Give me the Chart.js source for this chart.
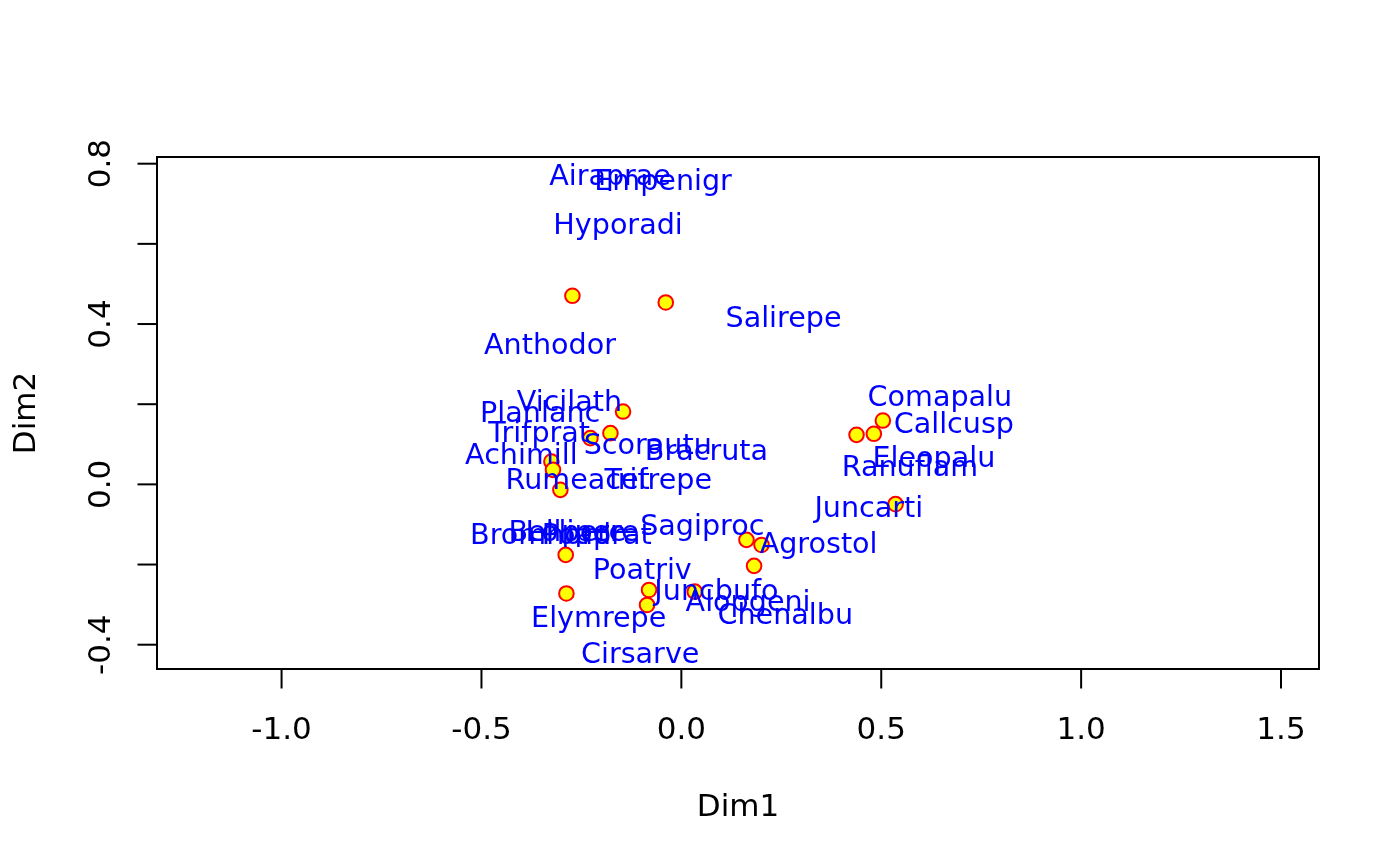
<!DOCTYPE html>
<html>
<head>
<meta charset="utf-8">
<script src="https://cdn.jsdelivr.net/npm/chart.js@4.4.1/dist/chart.umd.min.js"></script>
<style>
  html, body { margin: 0; padding: 0; background: #ffffff; }
  #wrap { width: 1400px; height: 866px; }
</style>
</head>
<body>
<div id="wrap"><canvas id="c" width="1400" height="866"></canvas></div>
<script>
// ---- Data ----
const siteX = [-0.2725, -0.039, -0.1459, -0.1774, -0.2275, -0.3251, -0.3211, -0.3026, -0.2893, -0.2875,
               -0.0808, -0.0858, 0.0335, 0.1629, 0.2005, 0.1819, 0.4382, 0.4815, 0.504, 0.5358];
const siteY = [0.4705, 0.4538, 0.1817, 0.1278, 0.1153, 0.0569, 0.0362, -0.0137, -0.176, -0.2721,
               -0.2634, -0.3008, -0.2676, -0.1385, -0.1511, -0.2034, 0.1236, 0.1261, 0.1593, -0.0494];

const speciesNames = ["Airaprae", "Empenigr", "Hyporadi", "Salirepe", "Anthodor", "Vicilath", "Planlanc",
  "Trifprat", "Scorautu", "Bracruta", "Achimill", "Rumeacet", "Trifrepe", "Comapalu", "Callcusp",
  "Eleopalu", "Ranuflam", "Juncarti", "Sagiproc", "Agrostol", "Poatriv", "Juncbufo", "Alopgeni",
  "Chenalbu", "Elymrepe", "Cirsarve", "Bromhord", "Bellpere", "Lolipere", "Poaprat"];
const speciesX = [-0.1784, -0.0458, -0.1584, 0.2555, -0.3286, -0.28, -0.3531,
  -0.3556, -0.0841, 0.0628, -0.4002, -0.2593, -0.0578, 0.6467, 0.6817,
  0.6316, 0.5716, 0.469, 0.0523, 0.3433, -0.0978, 0.0878, 0.1669,
  0.26, -0.2067, -0.1029, -0.3519, -0.2855, -0.248, -0.2117];
const speciesY = [0.773, 0.7606, 0.6508, 0.4194, 0.3502, 0.2089, 0.1822,
  0.1323, 0.1006, 0.0866, 0.0756, 0.0157, 0.0157, 0.2214, 0.1548,
  0.0681, 0.0474, -0.0549, -0.1006, -0.1448, -0.2089, -0.2629, -0.2896,
  -0.3228, -0.3295, -0.4194, -0.1231, -0.115, -0.115, -0.1216];

const xTicks = [-1.0, -0.5, 0.0, 0.5, 1.0, 1.5];
const xTickLabels = ["-1.0", "-0.5", "0.0", "0.5", "1.0", "1.5"];
const yTicks = [-0.4, -0.2, 0.0, 0.2, 0.4, 0.6, 0.8];
const yTickLabels = ["-0.4", "", "0.0", "", "0.4", "", "0.8"];
const xTitle = "Dim1";
const yTitle = "Dim2";

// ---- Styling ----
const FONT = '"DejaVu Sans", "Liberation Sans", sans-serif';
const AXIS_PX = 31;
const LABEL_PX = 28.6;
const TICK_LEN = 19.5;

const sitePoints = siteX.map((x, i) => ({ x: x, y: siteY[i] }));
const speciesPoints = speciesX.map((x, i) => ({ x: x, y: speciesY[i], label: speciesNames[i] }));

const rAxesPlugin = {
  id: 'rAxes',
  afterDraw(chart) {
    const ctx = chart.ctx;
    const a = chart.chartArea;
    const xs = chart.scales.x, ys = chart.scales.y;
    ctx.save();
    ctx.strokeStyle = '#000';
    ctx.fillStyle = '#000';
    ctx.lineWidth = 2;
    // box
    ctx.strokeRect(a.left, a.top, a.right - a.left, a.bottom - a.top);
    // x ticks
    ctx.font = AXIS_PX + 'px ' + FONT;
    ctx.textAlign = 'center';
    ctx.textBaseline = 'alphabetic';
    const capA = 0.729 * AXIS_PX;
    xTicks.forEach((v, i) => {
      const px = xs.getPixelForValue(v);
      ctx.beginPath();
      ctx.moveTo(px, a.bottom);
      ctx.lineTo(px, a.bottom + TICK_LEN);
      ctx.stroke();
      ctx.fillText(xTickLabels[i], px, 728 + capA / 2);
    });
    // y ticks
    yTicks.forEach((v, i) => {
      const py = ys.getPixelForValue(v);
      ctx.beginPath();
      ctx.moveTo(a.left, py);
      ctx.lineTo(a.left - TICK_LEN, py);
      ctx.stroke();
      if (yTickLabels[i]) {
        ctx.save();
        ctx.translate(99 + capA / 2, py);
        ctx.rotate(-Math.PI / 2);
        ctx.fillText(yTickLabels[i], 0, 0);
        ctx.restore();
      }
    });
    // titles
    ctx.fillText(xTitle, (a.left + a.right) / 2, 805 + capA / 2);
    ctx.save();
    ctx.translate(24 + capA / 2, (a.top + a.bottom) / 2);
    ctx.rotate(-Math.PI / 2);
    ctx.fillText(yTitle, 0, 0);
    ctx.restore();
    // species labels
    const meta = chart.getDatasetMeta(1);
    ctx.font = LABEL_PX + 'px ' + FONT;
    ctx.fillStyle = '#0000FF';
    const capL = 0.729 * LABEL_PX;
    meta.data.forEach((el, i) => {
      ctx.fillText(speciesPoints[i].label, el.x, el.y + capL / 2);
    });
    ctx.restore();
  }
};

new Chart(document.getElementById('c'), {
  type: 'scatter',
  data: {
    datasets: [
      {
        label: 'sites',
        data: sitePoints,
        pointRadius: 7.3,
        pointHoverRadius: 7.3,
        pointBorderWidth: 2,
        pointBorderColor: '#FF0000',
        pointBackgroundColor: '#FFFF00',
        borderColor: '#FF0000',
        backgroundColor: '#FFFF00',
        clip: false
      },
      {
        label: 'species',
        data: speciesPoints,
        pointRadius: 0,
        pointHoverRadius: 0,
        borderWidth: 0,
        showLine: false,
        clip: false
      }
    ]
  },
  options: {
    responsive: false,
    animation: false,
    devicePixelRatio: 1,
    layout: { padding: { left: 157, top: 157, right: 81, bottom: 197 } },
    plugins: { legend: { display: false }, tooltip: { enabled: false }, title: { display: false } },
    events: [],
    scales: {
      x: { type: 'linear', min: -1.3116, max: 1.595, display: false },
      y: { type: 'linear', min: -0.4606, max: 0.8167, display: false }
    }
  },
  plugins: [rAxesPlugin]
});
</script>
</body>
</html>
